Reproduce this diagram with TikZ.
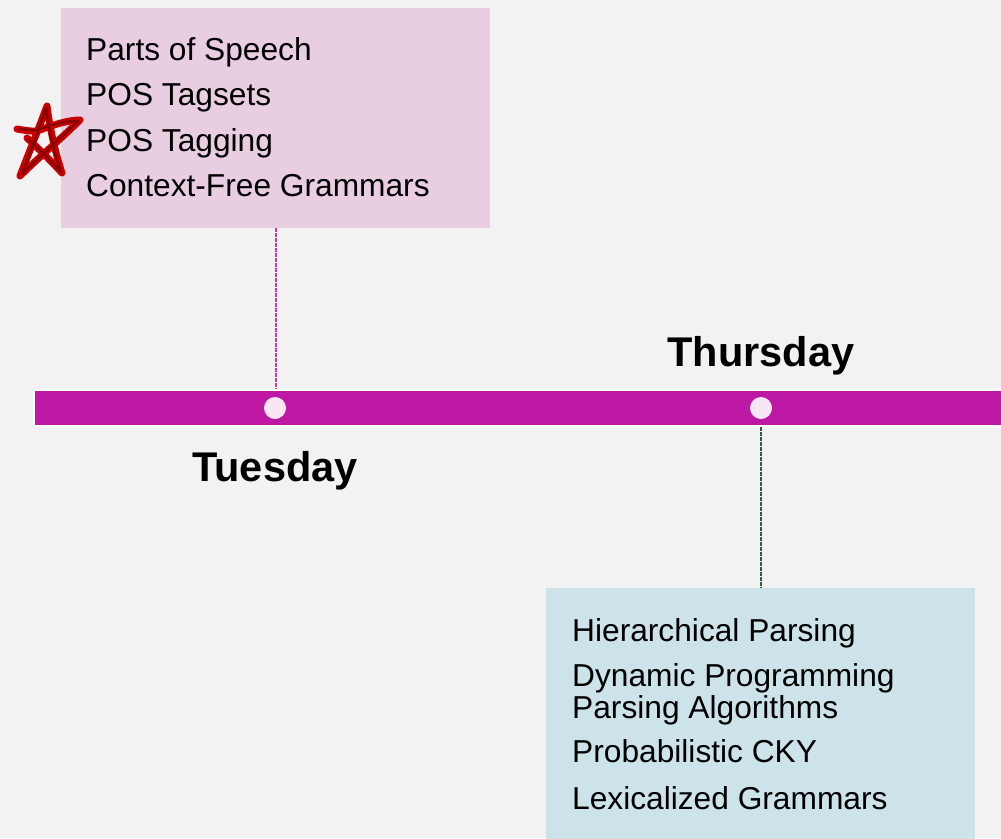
\documentclass[tikz,border=0pt]{standalone}
\usepackage{fontspec}
\setmainfont{Liberation Sans}
\definecolor{bgc}{RGB}{242,242,242}
\definecolor{barc}{RGB}{188,24,164}
\definecolor{pinkc}{RGB}{233,206,226}
\definecolor{bluec}{RGB}{204,227,233}
\definecolor{dotc}{RGB}{248,230,244}
\definecolor{linkp}{RGB}{196,60,172}
\definecolor{linkg}{RGB}{40,96,66}
\definecolor{starc}{RGB}{200,0,0}
\definecolor{stard}{RGB}{120,0,0}
\tikzset{
  topicbox/.style={rectangle, inner sep=0pt, draw=none},
  topic/.style={anchor=base west, inner sep=0pt, font=\fontsize{31.7}{36}\selectfont, text=black},
  dayname/.style={anchor=base, inner sep=0pt, font=\fontsize{41.5}{46}\selectfont\bfseries, text=black},
  daydot/.style={circle, fill=dotc, minimum size=22pt, inner sep=0pt},
  link/.style={line width=2pt, dash pattern=on 4pt off 1pt}
}
\begin{document}
\begin{tikzpicture}[x=1pt,y=-1pt]
  \useasboundingbox (0,0) rectangle (1001,838);
  \clip (0,0) rectangle (1001,838);
  \fill[bgc] (0,0) rectangle (1001,838);

  % topic boxes
  \node[topicbox, fill=pinkc, minimum width=429pt, minimum height=220pt] (pinkbox) at (275.5,118) {};
  \node[topicbox, fill=bluec, minimum width=429pt, minimum height=262pt] (bluebox) at (760.5,719) {};

  % timeline bar and day markers
  \node[rectangle, fill=barc, draw=white, line width=1.2pt, minimum width=990pt, minimum height=36pt, inner sep=0pt] (bar) at (529,408) {};
  \node[daydot] (d1) at (275,408) {};
  \node[daydot] (d2) at (761,408) {};

  % connectors from boxes to the bar
  \draw[link, draw=linkp] (pinkbox.south) -- (bar.north -| pinkbox.south);
  \draw[link, draw=linkg] (bar.south -| bluebox.north) -- (bluebox.north);

  % day labels
  \node[dayname] (tue) at (275,481) {Tuesday};
  \node[dayname] (thu) at (761,366) {Thursday};

  % Tuesday topics
  \node[topic] (p1) at (86,60.4) {Parts of Speech};
  \node[topic] (p2) at (86,105.7) {POS Tagsets};
  \node[topic] (p3) at (86,151) {POS Tagging};
  \node[topic] (p4) at (86,196.3) {Context-Free Grammars};

  % Thursday topics
  \node[topic] (b1) at (572,641.5) {Hierarchical Parsing};
  \node[topic] (b2) at (572,686.5) {Dynamic Programming};
  \node[topic] (b3) at (572,718.5) {Parsing Algorithms};
  \node[topic] (b4) at (572,762.5) {Probabilistic CKY};
  \node[topic] (b5) at (572,809.5) {Lexicalized Grammars};

  % hand-drawn star marking POS Tagging
  \draw[starc, line width=7pt, line cap=round, line join=round]
    (17,129) .. controls (28,131) and (36,132) .. (40,130)
    .. controls (55,124) and (70,120) .. (80,120)
    .. controls (62,138) and (38,158) .. (20,176)
    .. controls (30,150) and (40,125) .. (47,106)
    .. controls (50,130) and (56,155) .. (62,173)
    .. controls (50,160) and (38,148) .. (27,138);
  \draw[stard, line width=2.4pt, line cap=round, line join=round, opacity=0.8]
    (19,129) .. controls (30,130) and (36,131) .. (40,129)
    .. controls (55,123) and (68,121) .. (78,121)
    .. controls (60,139) and (38,158) .. (22,174)
    .. controls (31,150) and (40,127) .. (46,108)
    .. controls (49,131) and (55,155) .. (61,172)
    .. controls (50,160) and (39,149) .. (29,140);
\end{tikzpicture}
\end{document}
